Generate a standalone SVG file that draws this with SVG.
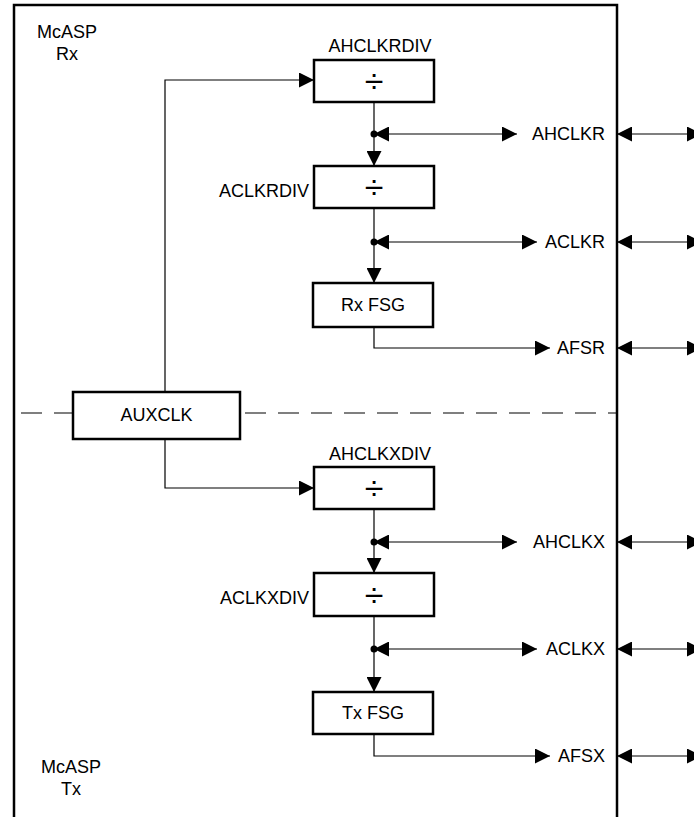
<svg xmlns="http://www.w3.org/2000/svg" width="694" height="817" viewBox="0 0 694 817">
<style>
text{font-family:"Liberation Sans",Arial,sans-serif;font-size:18px;fill:#000}
.box{fill:#fff;stroke:#000;stroke-width:2.5}
.ln{fill:none;stroke:#000;stroke-width:1.2}
.arr{marker-end:url(#ah)}
.bi{marker-start:url(#ah);marker-end:url(#ah)}
.dash{fill:none;stroke:#000;stroke-width:1.2;stroke-dasharray:21 12}
.mid{text-anchor:middle}
.end{text-anchor:end}
.div{font-size:34px}
</style>
<defs>
<marker id="ah" markerUnits="userSpaceOnUse" markerWidth="15" markerHeight="15" refX="15" refY="7.5" orient="auto-start-reverse">
<path d="M0,0 L15,7.5 L0,15 z" fill="#000"/>
</marker>
</defs>
<rect id="frame" x="14" y="5" width="603" height="830" fill="none" stroke="#000" stroke-width="2.5"/>
<g id="section-labels">
<text class="mid" x="67" y="38">McASP</text>
<text class="mid" x="67" y="60">Rx</text>
<text class="mid" x="71" y="773">McASP</text>
<text class="mid" x="71" y="795">Tx</text>
</g>
<g id="divider">
<line class="dash" x1="21" y1="413" x2="73" y2="413"/>
<line class="dash" x1="245" y1="413" x2="617" y2="413"/>
</g>
<g id="connectors">
<path class="ln arr" d="M165,392 V80 H314"/>
<path class="ln arr" d="M165,439 V488 H314"/>
<path class="ln arr" d="M374,102 V166"/>
<path class="ln bi" d="M374,134 H517"/>
<path class="ln arr" d="M374,208 V283"/>
<path class="ln bi" d="M374,242 H537"/>
<path class="ln arr" d="M374,327 V348 H550"/>
<path class="ln arr" d="M374,509 V573"/>
<path class="ln bi" d="M374,542 H517"/>
<path class="ln arr" d="M374,616 V692"/>
<path class="ln bi" d="M374,649 H537"/>
<path class="ln arr" d="M374,734 V756 H550"/>
<path class="ln bi" d="M617,134 H702"/>
<path class="ln bi" d="M617,242 H702"/>
<path class="ln bi" d="M617,348 H702"/>
<path class="ln bi" d="M617,542 H702"/>
<path class="ln bi" d="M617,649 H702"/>
<path class="ln bi" d="M617,756 H702"/>
<circle cx="374" cy="134" r="3.5"/>
<circle cx="374" cy="242" r="3.5"/>
<circle cx="374" cy="542" r="3.5"/>
<circle cx="374" cy="649" r="3.5"/>
</g>
<g id="auxclk">
<rect class="box" x="73" y="392" width="167" height="47"/>
<text class="mid" x="156.5" y="421">AUXCLK</text>
</g>
<g id="ahclkrdiv">
<text class="mid" x="380" y="52">AHCLKRDIV</text>
<rect class="box" x="314" y="60" width="120" height="42"/>
<text class="mid div" x="374" y="93">÷</text>
</g>
<g id="aclkrdiv">
<text class="end" x="309" y="197">ACLKRDIV</text>
<rect class="box" x="314" y="166" width="120" height="42"/>
<text class="mid div" x="374" y="199">÷</text>
</g>
<g id="rxfsg">
<rect class="box" x="313" y="283" width="120" height="44"/>
<text class="mid" x="373" y="311">Rx FSG</text>
</g>
<g id="ahclkxdiv">
<text class="mid" x="380" y="460">AHCLKXDIV</text>
<rect class="box" x="314" y="467" width="120" height="42"/>
<text class="mid div" x="374" y="500">÷</text>
</g>
<g id="aclkxdiv">
<text class="end" x="309" y="604">ACLKXDIV</text>
<rect class="box" x="314" y="573" width="120" height="43"/>
<text class="mid div" x="374" y="607">÷</text>
</g>
<g id="txfsg">
<rect class="box" x="313" y="692" width="120" height="42"/>
<text class="mid" x="373" y="719">Tx FSG</text>
</g>
<g id="pin-labels">
<text class="end" x="605" y="140">AHCLKR</text>
<text class="end" x="605" y="248">ACLKR</text>
<text class="end" x="605" y="354">AFSR</text>
<text class="end" x="605" y="548">AHCLKX</text>
<text class="end" x="605" y="655">ACLKX</text>
<text class="end" x="605" y="762">AFSX</text>
</g>
</svg>
